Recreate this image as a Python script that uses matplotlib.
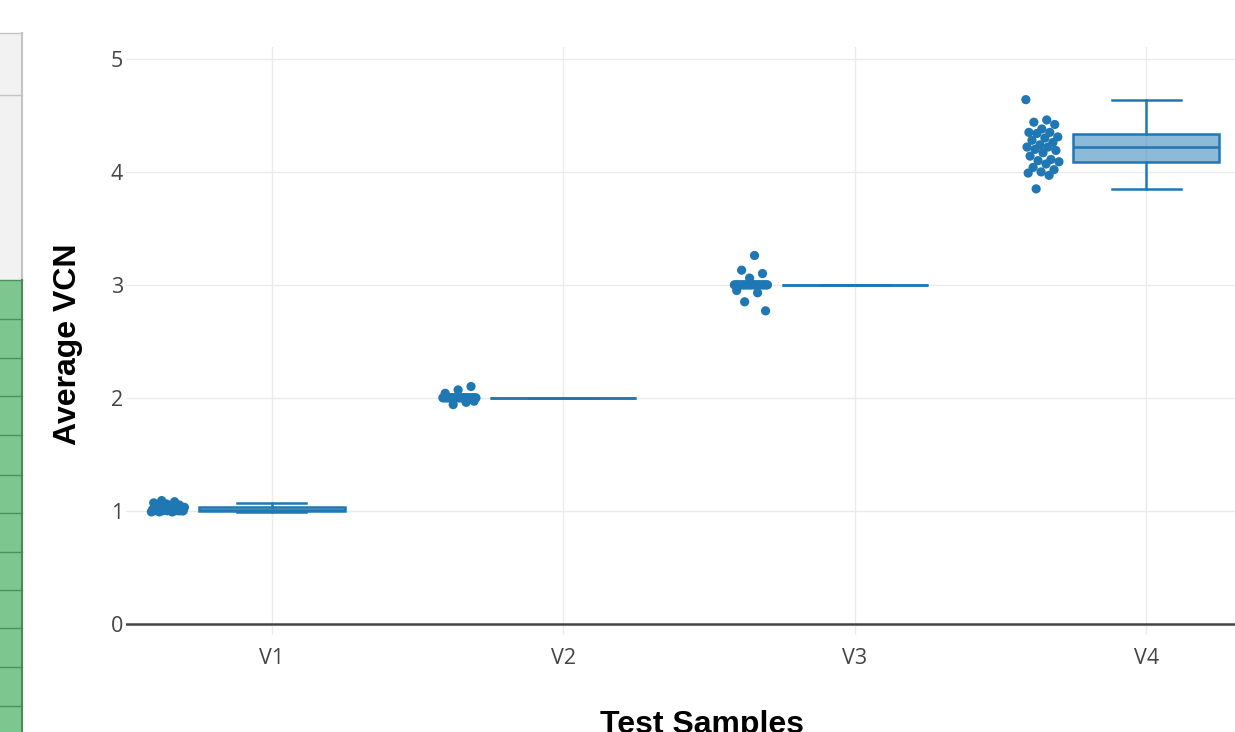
import matplotlib
matplotlib.use("Agg")
import matplotlib.pyplot as plt
from matplotlib.patches import Rectangle
from matplotlib.lines import Line2D
import numpy as np

# ---- data ----
categories = ["V1", "V2", "V3", "V4"]
v1_values = [0.99, 0.99, 0.99, 1.00, 1.00, 1.00, 1.00, 1.00, 1.00, 1.00, 1.00, 1.00,
             1.01, 1.01, 1.01, 1.01, 1.01, 1.02, 1.02, 1.02, 1.03, 1.03, 1.03, 1.04,
             1.05, 1.06, 1.07, 1.08, 1.09, 1.00]
v2_values = [2.00] * 24 + [2.10, 2.07, 2.04, 1.96, 1.94, 1.97]
v3_values = [3.00] * 22 + [3.26, 3.13, 3.10, 3.06, 2.95, 2.93, 2.85, 2.77]
v4_values = [4.64, 4.46, 4.44, 4.42, 4.38, 4.35, 4.35, 4.34, 4.31, 4.30, 4.28, 4.26,
             4.24, 4.22, 4.22, 4.20, 4.19, 4.17, 4.14, 4.11, 4.10, 4.09, 4.07, 4.04,
             4.02, 4.00, 3.99, 3.97, 3.85]
series = [v1_values, v2_values, v3_values, v4_values]
y_ticks = [0, 1, 2, 3, 4, 5]
x_label = "Test Samples"
y_label = "Average VCN"

# ---- style ----
W, H = 1235, 732
BLUE = "#1f77b4"
fig = plt.figure(figsize=(W / 100, H / 100), dpi=100)

# decorative spreadsheet strip at left edge
def fx(px):
    return px / W

def fy(py):
    return 1 - py / H

fig.add_artist(Rectangle((0, fy(280)), fx(22), fy(33) - fy(280), transform=fig.transFigure,
                         facecolor="#f2f2f2", edgecolor="none"))
fig.add_artist(Rectangle((0, 0), fx(22), fy(280), transform=fig.transFigure,
                         facecolor="#7dc68f", edgecolor="none"))
for yy in [33, 95]:
    fig.add_artist(Line2D([0, fx(22)], [fy(yy), fy(yy)], transform=fig.transFigure,
                          color="#c4c4c4", lw=1))
for yy in [280, 319, 358, 396, 435, 475, 513, 552, 590, 628, 667, 706]:
    fig.add_artist(Line2D([0, fx(22)], [fy(yy), fy(yy)], transform=fig.transFigure,
                          color="#4f8f5f", lw=1))
fig.add_artist(Line2D([fx(22), fx(22)], [fy(33), fy(280)], transform=fig.transFigure,
                      color="#c4c4c4", lw=1.5))
fig.add_artist(Line2D([fx(22), fx(22)], [0, fy(280)], transform=fig.transFigure,
                      color="#4a8a5a", lw=1.5))

# main axes (extends past right edge like the cropped original)
left, right, top, bottom = 126, 1292, 47, 635
ax = fig.add_axes([fx(left), fy(bottom), fx(right - left), fy(top) - fy(bottom)])
ax.set_xlim(-0.5, 3.5)
ax.set_ylim(-0.1, 5.106)

positions = np.arange(len(categories))
bp = ax.boxplot(series, positions=positions, widths=0.5, whis=1.5, showfliers=False,
                patch_artist=True, capwidths=0.235, zorder=3)
for b in bp["boxes"]:
    b.set_facecolor((31 / 255, 119 / 255, 180 / 255, 0.5))
    b.set_edgecolor(BLUE)
    b.set_linewidth(1.8)
for key in ["whiskers", "caps", "medians"]:
    for ln in bp[key]:
        ln.set_color(BLUE)
        ln.set_linewidth(1.8)

# jittered points (deterministic jitter pattern)
for i, vals in enumerate(series):
    n = len(vals)
    k = np.arange(n)
    jit = ((k * 0.6180339887) % 1.0) * 2 - 1
    xs = i - 0.355 + 0.058 * jit
    ax.scatter(xs, vals, s=44, color=BLUE, edgecolors="none", zorder=4)

# grid and axes styling
ax.set_yticks(y_ticks)
ax.set_xticks(positions)
ax.set_xticklabels(categories)
ax.grid(True, color="#ebebeb", linewidth=1)
ax.set_axisbelow(True)
for s in ax.spines.values():
    s.set_visible(False)
ax.axhline(0, color="#444444", linewidth=1.8, zorder=2)
ax.tick_params(axis="both", length=0, labelsize=15.5, labelcolor="#444444")
ax.tick_params(axis="y", pad=2)
ax.tick_params(axis="x", pad=9)
for lab in ax.get_xticklabels() + ax.get_yticklabels():
    lab.set_fontfamily("Open Sans")

fig.text(fx(68), fy(344), y_label, rotation=90, ha="center", va="center",
         fontsize=23, fontweight="bold", family="Liberation Sans", color="black")
fig.text(fx(702), fy(733), x_label, ha="center", va="baseline",
         fontsize=23, fontweight="bold", family="Liberation Sans", color="black")

fig.savefig("out.png", dpi=100)
